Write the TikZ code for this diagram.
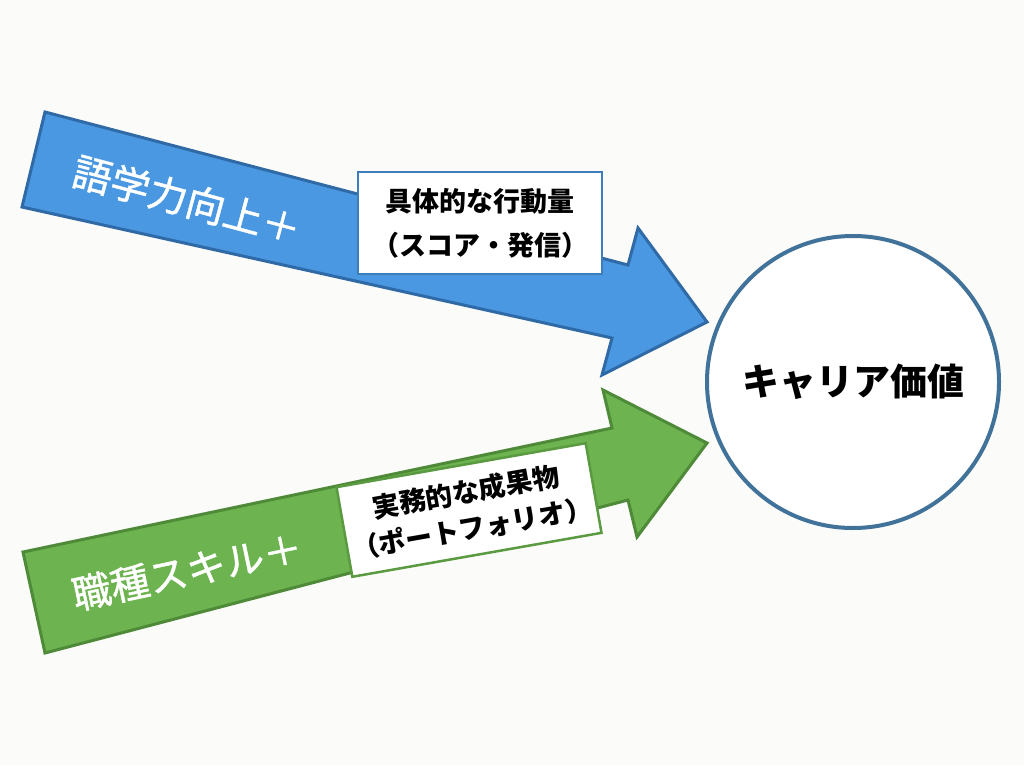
\documentclass[tikz,border=0pt]{standalone}
\usepackage{fontspec}
\newfontfamily\cjk{Noto Sans CJK JP}
\newfontfamily\cjkmed[FakeBold=1.2]{Noto Sans CJK JP}
\definecolor{bg}{HTML}{FBFBFA}
\definecolor{bluefill}{HTML}{4A98E2}
\definecolor{blueline}{HTML}{2F6AA6}
\definecolor{greenfill}{HTML}{6DB34F}
\definecolor{greenline}{HTML}{4E8A38}
\definecolor{circline}{HTML}{41729A}
\definecolor{bboxline}{HTML}{3C7DBA}
\definecolor{gboxline}{HTML}{5A9A40}
\tikzset{
  bluearrow/.style={fill=bluefill, draw=blueline, line width=3pt, line join=miter},
  greenarrow/.style={fill=greenfill, draw=greenline, line width=3pt, line join=miter},
  armlabel/.style={text=white, font=\cjkmed\fontsize{39}{44}\selectfont, inner sep=0pt},
  notebox/.style={fill=white, line width=2.5pt, align=center, inner sep=0pt,
    font=\cjk\bfseries\fontsize{27}{44}\selectfont},
  valuecircle/.style={circle, draw=circline, line width=4pt, fill=white,
    minimum size=292pt, inner sep=0pt, font=\cjk\bfseries\fontsize{37}{44}\selectfont}
}
\begin{document}
\begin{tikzpicture}[x=1pt,y=-1pt]
\fill[bg] (0,0) rectangle (1024,765);
\useasboundingbox (0,0) rectangle (1024,765);
% blue arrow
\filldraw[bluearrow] (45,112) -- (628,265) -- (638,228) -- (707,322) -- (602,375) -- (612,338) -- (22,207) -- cycle;
% green arrow
\filldraw[greenarrow] (23,552) -- (612,428) -- (603,390) -- (707,443) -- (637,537) -- (628,500) -- (45,653) -- cycle;
% labels on arrows
\node[armlabel, rotate=-15] (lang) at (187,200) {語学力向上＋};
\node[armlabel, rotate=12] (job) at (187,571) {職種スキル＋};
% boxes
\node[notebox, draw=bboxline, minimum width=244pt, minimum height=102pt] (act) at (480,223)
  {具体的な行動量\\（スコア・発信）};
\node[notebox, draw=gboxline, minimum width=253pt, minimum height=91pt, rotate=10,
  font=\cjk\bfseries\fontsize{27}{37}\selectfont] (port) at (469,510)
  {実務的な成果物\\（ポートフォリオ）};
% circle
\node[valuecircle] (career) at (853,382) {キャリア価値};
\end{tikzpicture}
\end{document}
